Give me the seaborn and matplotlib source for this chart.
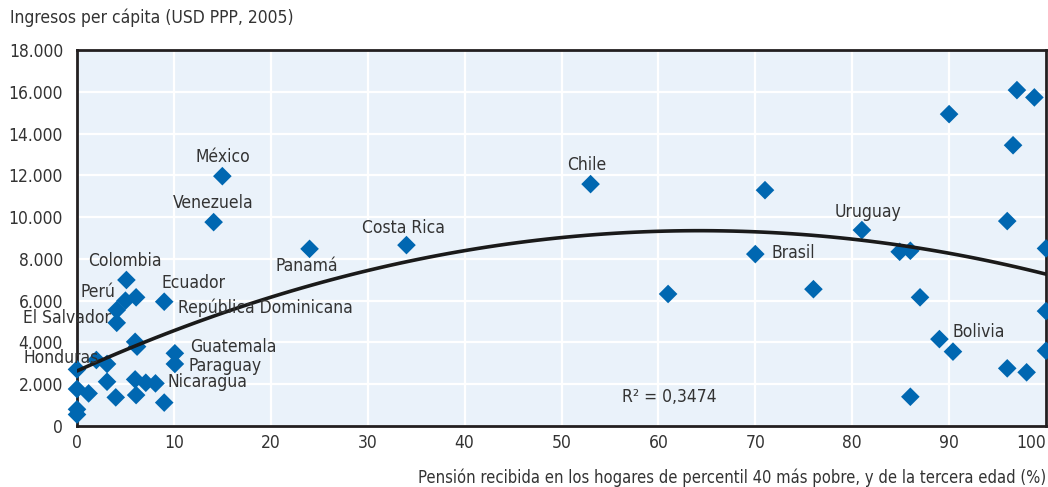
import matplotlib
matplotlib.use("Agg")
import matplotlib.pyplot as plt
import seaborn as sns
import numpy as np
import pandas as pd
from matplotlib.ticker import FuncFormatter

# ---- data ----
pension = [0, 0, 0, 0, 1.2, 2.0, 3.1, 3.1, 4.0, 4.1, 4.1, 5.0, 5.1, 6.1, 6.0, 6.2,
           6.0, 6.1, 7.1, 8.1, 9.0, 9.0, 10.1, 10.1, 14.1, 15.0, 24.0, 34.0, 53.0,
           61.0, 70.0, 71.0, 76.0, 81.0, 84.9, 86.0, 87.0, 89.0, 90.4, 86.0, 90.0,
           96.0, 96.6, 97.0, 98.8, 96.0, 98.0, 100, 100, 100]
income = [2710, 1770, 800, 550, 1560, 3160, 2970, 2120, 1370, 5550, 4940, 6000, 6990,
          6160, 4030, 3800, 2230, 1480, 2070, 2040, 1120, 5950, 3480, 2970, 9760, 11960,
          8480, 8660, 11580, 6320, 8230, 11290, 6550, 9380, 8340, 8390, 6160, 4160,
          3560, 1400, 14930, 9810, 13440, 16080, 15730, 2760, 2570, 8500, 5500, 3600]

label_names = ["Colombia", "Perú", "El Salvador", "Honduras", "Ecuador",
               "República Dominicana", "Guatemala", "Paraguay", "Nicaragua",
               "México", "Venezuela", "Panamá", "Costa Rica", "Chile", "Brasil",
               "Uruguay", "Bolivia"]
label_x = [1.14, 0.41, -5.57, -5.47, 8.77, 10.42, 11.66, 11.46, 9.39,
           15.07, 14.04, 23.74, 33.64, 52.63, 71.72, 81.63, 90.3]
label_y = [7895, 6412, 5168, 3254, 6842, 5646, 3780, 2871, 2105,
           12872, 10670, 7656, 9474, 12489, 8278, 10240, 4498]
label_ha = ["left", "left", "left", "left", "left", "left", "left", "left", "left",
            "center", "center", "center", "center", "center", "left", "center", "left"]

r2_text = "R² = 0,3474"
x_ticks = list(range(0, 101, 10))
y_ticks = list(range(0, 18001, 2000))

df = pd.DataFrame({"pension": pension, "income": income})

# ---- style ----
sns.set_style("white")
plt.rcParams["font.family"] = ["DejaVu Sans"]
plt.rcParams["font.stretch"] = "condensed"
text_color = "#333333"
bg = "#EAF2FA"
blue = "#0067B1"
fs = 12.5

fig = plt.figure(figsize=(10.48, 4.87), dpi=100)
ax = fig.add_axes([77 / 1048, 1 - 426 / 487, (1046 - 77) / 1048, (426 - 50) / 487])
ax.set_facecolor(bg)

sns.scatterplot(data=df, x="pension", y="income", marker="D", s=90, color=blue,
                edgecolor="none", ax=ax, clip_on=False, zorder=3, legend=False)
sns.regplot(data=df, x="pension", y="income", order=2, ci=None, scatter=False,
            ax=ax, line_kws={"color": "#1a1a1a", "lw": 2.6, "zorder": 4})

ax.set_xlim(0, 100)
ax.set_ylim(0, 18000)
ax.set_xticks(x_ticks)
ax.set_yticks(y_ticks)
ax.yaxis.set_major_formatter(FuncFormatter(lambda v, p: f"{int(v):,}".replace(",", ".")))
ax.grid(True, color="white", lw=1.6, zorder=0)
ax.set_axisbelow(True)
for s in ax.spines.values():
    s.set_color("#231F20")
    s.set_linewidth(2)
ax.tick_params(axis="both", direction="in", length=5, width=1, color="#231F20",
               labelsize=fs, labelcolor=text_color, pad=6)
ax.tick_params(axis="y", pad=10)
ax.set_xlabel("")
ax.set_ylabel("")
ax.xaxis.get_major_ticks()[-1].label1.set_horizontalalignment("right")

for name, lx, ly, ha in zip(label_names, label_x, label_y, label_ha):
    ax.text(lx, ly, name, ha=ha, va="center", fontsize=fs, color=text_color,
            clip_on=False, zorder=5)
ax.text(61.1, 1388, r2_text, ha="center", va="center", fontsize=fs, color=text_color)

fig.text(10 / 1048, 1 - 18 / 487, "Ingresos per cápita (USD PPP, 2005)", ha="left",
         va="center", fontsize=fs, color=text_color)
fig.text(1046 / 1048, 1 - 478 / 487,
         "Pensión recibida en los hogares de percentil 40 más pobre, y de la tercera edad (%)",
         ha="right", va="center", fontsize=11.9, color=text_color)

fig.savefig("out.png", dpi=100, facecolor="white")
